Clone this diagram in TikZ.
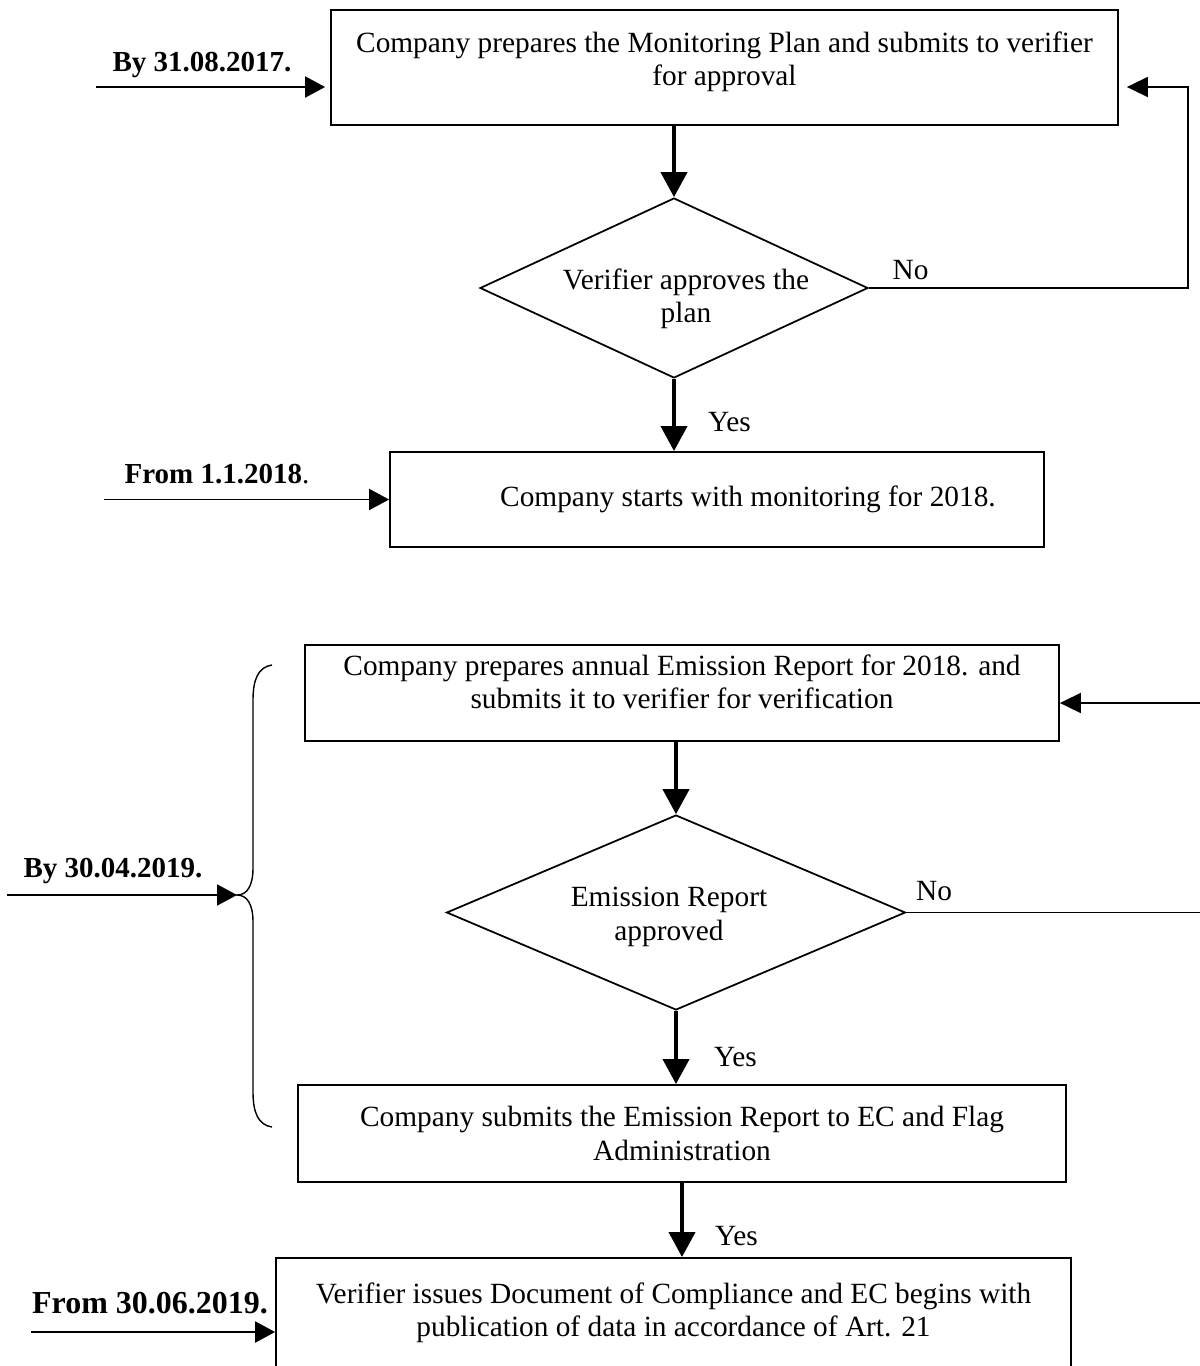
\documentclass[tikz,border=0pt]{standalone}
\usepackage{fontspec}
\setmainfont{Liberation Serif}
\usetikzlibrary{positioning, arrows.meta, shapes.geometric, calc}
\newcommand{\lowstrut}[1]{\rule[-#1]{0pt}{#1}}
\newcommand{\dectext}[3]{\hspace*{#1}\raisebox{#2}[0pt][0pt]{\begin{tabular}{@{}c@{}}#3\end{tabular}}}
\tikzset{
  flowbox/.style  = {draw, line width=1.1pt, align=center, inner sep=0pt,
                     font=\fontsize{16.7}{19}\selectfont},
  decbox/.style   = {draw, diamond, aspect=2.1, line width=1pt, align=center,
                     inner sep=0pt, font=\fontsize{16.7}{19}\selectfont},
  flowarr/.style  = {-{Triangle[length=0.5cm, width=0.52cm]}, line width=2.3pt},
  backarr/.style  = {-{Triangle[length=0.42cm, width=0.4cm]}, line width=1pt},
  datearr/.style  = {-{Triangle[length=0.4cm, width=0.42cm]}, line width=1.1pt},
  datelbl/.style  = {anchor=base, inner sep=0pt, font=\fontsize{16.5}{19}\selectfont},
  flowlbl/.style  = {inner sep=0pt, font=\fontsize{16.7}{19}\selectfont},
}

\begin{document}
\begin{tikzpicture}[x=0.02cm, y=-0.02cm]
    \useasboundingbox (0,0) rectangle (1200,1366);
    \clip (0,0) rectangle (1200,1366);
    % steps of the flow
    \node[flowbox, minimum width=15.74cm, minimum height=2.3cm] (plan) at (724.5,67.5)
      {Company prepares the Monitoring Plan and submits to verifier\\ for approval\lowstrut{0.36cm}};
    \node[decbox, minimum width=7.76cm, minimum height=3.6cm] (approve) at (674,288)
      {\dectext{0.48cm}{-0.38cm}{Verifier approves the\\ plan}};
    \node[flowbox, minimum width=13.08cm, minimum height=1.9cm] (start) at (717,499.5)
      {\hspace*{1.24cm}Company starts with monitoring for 2018.};
    \node[flowbox, minimum width=15.08cm, minimum height=1.92cm] (report) at (682,693)
      {Company prepares annual Emission Report for 2018. and\\ submits it to verifier for verification\lowstrut{0.46cm}};
    \node[decbox, minimum width=9.18cm, minimum height=3.9cm] (verified) at (676,912.5)
      {\dectext{-0.28cm}{-0.24cm}{Emission Report\\ approved}};
    \node[flowbox, minimum width=15.36cm, minimum height=1.94cm] (submit) at (682,1133.5)
      {Company submits the Emission Report to EC and Flag\\ Administration};
    \node[flowbox, minimum width=15.9cm, minimum height=2.2cm] (issue) at (673.5,1313)
      {Verifier issues Document of Compliance and EC begins with\\ publication of data in accordance of Art. 21};

    % main arrows
    \draw[flowarr] (approve.north |- plan.south) -- (approve.north);
    \draw[flowarr] (approve.south) -- (approve.south |- start.north)
      node[flowlbl, pos=0.6, anchor=west, xshift=0.64cm] (yes1) {Yes};
    \draw[flowarr] (verified.north |- report.south) -- (verified.north);
    \draw[flowarr] (verified.south) -- (verified.south |- submit.north)
      node[flowlbl, pos=0.63, anchor=west, xshift=0.72cm] (yes2) {Yes};
    \draw[flowarr] (submit.south) -- (submit.south |- issue.north)
      node[flowlbl, pos=0.72, anchor=west, xshift=0.62cm] (yes3) {Yes};

    % going back on No
    \coordinate (back1) at (1188,87);
    \coordinate (back2) at (1215,703);
    \draw[backarr, shorten >=0.16cm] (approve.east)
      node[flowlbl, anchor=base west, xshift=0.46cm, yshift=0.18cm] (no1) {No}
      -| (back1) -- (plan.east |- back1);
    \draw[backarr] (verified.east)
      node[flowlbl, anchor=base west, xshift=0.18cm, yshift=0.25cm] (no2) {No}
      -| (back2) -- (report.east |- back2);

    % dates on the left
    \coordinate (d1) at (96,87);
    \coordinate (d2) at (104,499.5);
    \coordinate (d3) at (7,895);
    \coordinate (d4) at (31,1332);
    \coordinate (brtip) at (237,895);
    \node[datelbl] (by17) at (202,71) {\textbf{By 31.08.2017.}};
    \node[datelbl] (from18) at (217,483) {\textbf{From 1.1.2018}.};
    \node[datelbl] (by19) at (113,877) {\textbf{By 30.04.2019.}};
    \node[datelbl, font=\fontsize{18.2}{21}\selectfont] (from19) at (150,1313) {\textbf{From 30.06.2019.}};
    \draw[datearr, shorten >=0.1cm] (d1) -- (d1 -| plan.west);
    \draw[datearr] (d2) -- (d2 -| start.west);
    \draw[datearr] (d3) -- (brtip);
    \draw[datearr] (d4) -- (d4 -| issue.west);

    % brace over the 2019 steps
    \draw[line width=0.8pt] (272,665) .. controls (258,667) and (253,680) .. (253,700)
      -- (253,868) .. controls (253,886) and (247,895) .. (brtip)
      .. controls (247,895) and (253,904) .. (253,922)
      -- (253,1092) .. controls (253,1112) and (258,1125) .. (272,1127);
\end{tikzpicture}
\end{document}
